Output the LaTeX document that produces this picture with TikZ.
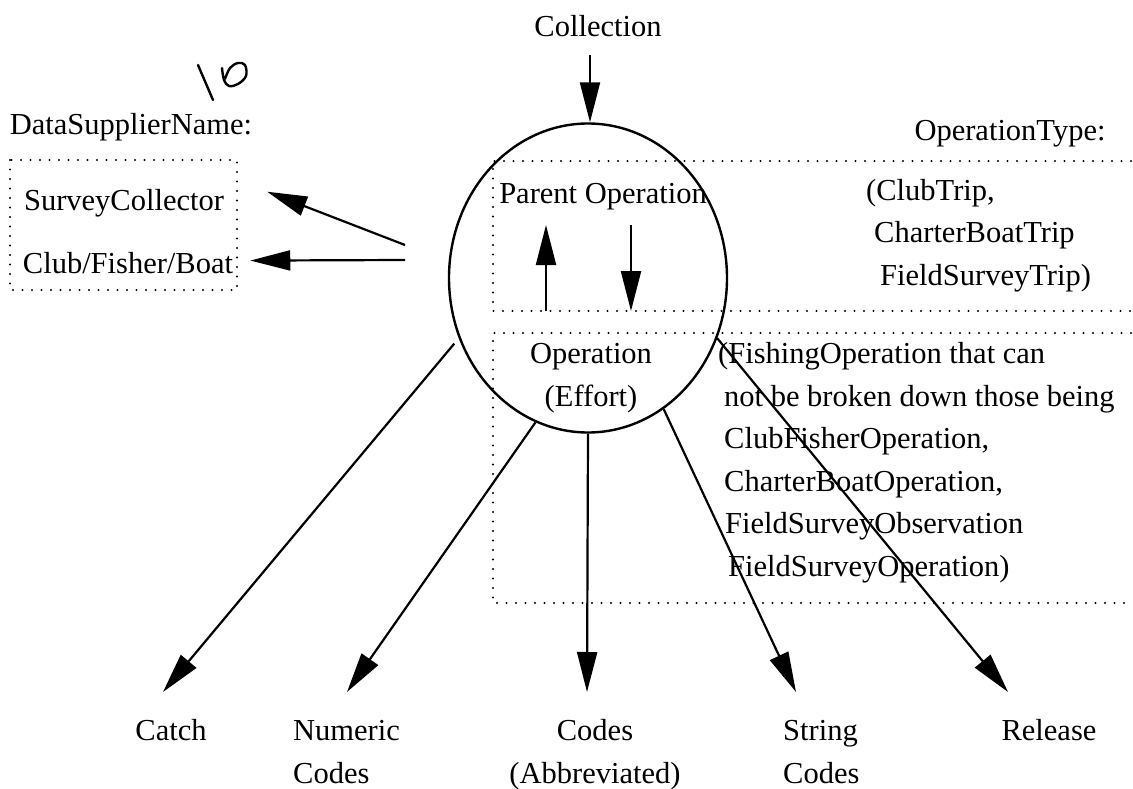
\documentclass[tikz,border=0pt]{standalone}
\usepackage{fontspec}
\setmainfont{Liberation Serif}
\usepackage{tikz}
\usetikzlibrary{arrows.meta, shapes.geometric, positioning}

\begin{document}
\begin{tikzpicture}[
    x=1pt, y=-1pt,
    txt/.style={inner sep=0pt, anchor=base, font=\fontsize{30.5pt}{43pt}\selectfont},
    txtleft/.style={txt, align=left, anchor=base west},
    txtblock/.style={txtleft, font=\fontsize{30.5pt}{42.5pt}\selectfont},
    arr/.style={-{Triangle[length=40pt,width=20pt]}, line width=2.2pt},
    dotbox/.style={line width=2.2pt, dash pattern=on 0pt off 9.5pt, line cap=round},
    pen/.style={line width=2.4pt, line cap=round, line join=round}
]
    \useasboundingbox (0,0) rectangle (1133,789);
    \fill[white] (0,0) rectangle (1133,789);

    % --- Operation ellipse ---
    % (multi-line nodes sit on the baseline of their last line)
    \node (op) [draw, ellipse, line width=2.4pt, minimum width=278pt, minimum height=309pt, inner sep=0pt] at (588,278) {};
    \node (collection) [txt] at (598,37) {Collection};
    \node (parent) [txt] at (603,204) {Parent Operation};
    \node (operation) [txt, align=center] at (591,406) {Operation\\(Effort)};

    % --- Data supplier ---
    \node (supplier) [txt] at (131,135) {DataSupplierName:};
    \node (survey) [txt] at (124,210) {SurveyCollector};
    \node (club) [txt] at (128,273) {Club/Fisher/Boat};
    \draw[dotbox] (10,160) rectangle (237,290);

    % --- Operation types ---
    \node (optype) [txt] at (1010,141) {OperationType:};
    \node (trips) [txtblock] at (866,285) {(ClubTrip,\\\hspace*{8pt}CharterBoatTrip\\\hspace*{14pt}FieldSurveyTrip)};
    \node (fishing) [txtblock] at (718,576) {(FishingOperation that can\\\hspace*{6pt}not be broken down those being\\\hspace*{6pt}ClubFisherOperation,\\\hspace*{6pt}CharterBoatOperation,\\\hspace*{7pt}FieldSurveyObservation\\\hspace*{10pt}FieldSurveyOperation)};
    \draw[dotbox] (1131,161) -| (493,311) -- (1131,311);
    \draw[dotbox] (1131,333) -| (493,603) -- (1131,603);

    % --- Outputs ---
    \node (catch) [txt] at (171,740) {Catch};
    \node (numeric) [txtleft] at (293,783) {Numeric\\Codes};
    \node (codes) [txt, align=center] at (595,783) {Codes\\(Abbreviated)};
    \node (string) [txtleft] at (783,783) {String\\Codes};
    \node (release) [txt] at (1049,740) {Release};

    \coordinate (catchtip) at (163,692);
    \coordinate (numerictip) at (347,692);
    \coordinate (codestip) at (587,692);
    \coordinate (stringtip) at (796,692);
    \coordinate (releasetip) at (1008,692);

    % --- Connections ---
    \draw[arr, shorten <=18pt] ([xshift=-8pt]collection.south) -- ([xshift=-8pt]collection.south |- op.north);

    \coordinate (tailA) at (405,245);
    \coordinate (tailB) at (405,260);
    \draw[arr] (tailA) -- ([shift={(43,-11)}]survey.east);
    \draw[arr] (tailB) -- ([shift={(17,-2)}]club.east);

    \coordinate (uptip) at (546,225);
    \coordinate (downtip) at (631,311);
    \draw[arr] (uptip |- downtip) -- (uptip);
    \draw[arr] (downtip |- uptip) -- (downtip);

    \draw[arr, shorten <=7pt] (op.-155) -- (catchtip);
    \draw[arr] (op.-110) -- (numerictip);
    \draw[arr] (op.south) -- (codestip);
    \draw[arr] (op.-60) -- (stringtip);
    \draw[arr] (op.-25) -- (releasetip);

    % pencil mark
    \draw[pen] (198,65) -- (213,100);
    \draw[pen] plot[smooth, tension=0.6] coordinates {(222,68) (224,80) (229,86) (238,84) (246,76) (245,65) (238,63) (230,68) (225,79)};
\end{tikzpicture}
\end{document}
